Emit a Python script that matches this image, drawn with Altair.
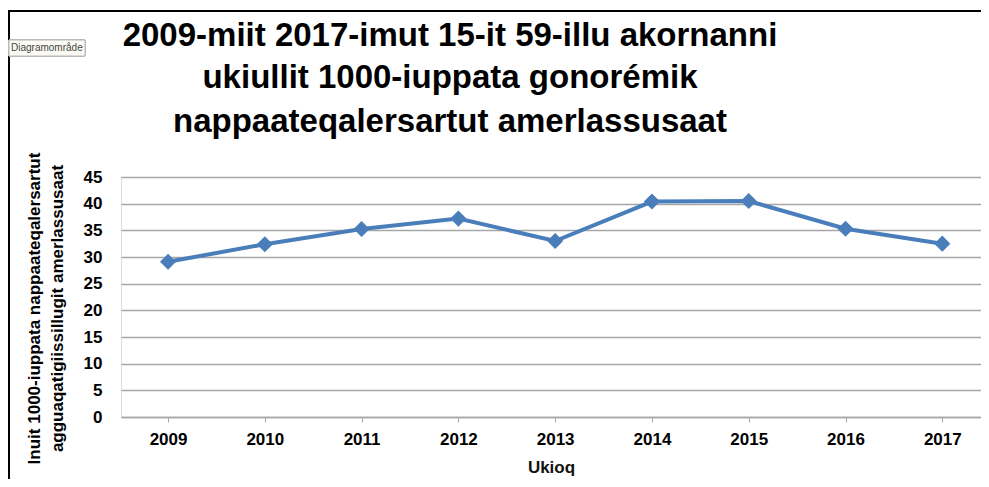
import altair as alt
import pandas as pd

years = [2009, 2010, 2011, 2012, 2013, 2014, 2015, 2016, 2017]
values = [29.1, 32.4, 35.25, 37.2, 33.0, 40.4, 40.5, 35.3, 32.5]

title_lines = [
    "2009-miit 2017-imut 15-it 59-illu akornanni",
    "ukiullit 1000-iuppata gonorémik",
    "nappaateqalersartut amerlassusaat",
]
y_title = ["Inuit 1000-iuppata nappaateqalersartut", "agguaqatigiissillugit amerlassusaat"]
x_title = "Ukioq"
y_ticks = [0, 5, 10, 15, 20, 25, 30, 35, 40, 45]

df = pd.DataFrame({"year": years, "value": values})

TFONT = "Liberation Sans Narrow, Liberation Sans, sans-serif"
FONT = "Liberation Sans, Arial, sans-serif"
BLUE = "#4a7ebb"
GRID = "#a6a6a6"

x_enc = alt.X(
    "year:Q",
    scale=alt.Scale(domain=[2008.514, 2017.4], nice=False, zero=False),
    axis=alt.Axis(
        values=years, format="d", title=x_title, grid=False, labelOverlap=False,
        domainColor=GRID, domainWidth=1.5, tickColor=GRID, tickSize=5, tickWidth=1,
        labelFont=FONT, labelFontSize=17, labelFontWeight="bold", labelColor="#000",
        labelPadding=9, titleFont=FONT, titleFontSize=17, titleFontWeight="bold",
        titleColor="#111", titlePadding=12,
    ),
)
y_enc = alt.Y(
    "value:Q",
    scale=alt.Scale(domain=[0, 45], nice=False),
    axis=alt.Axis(
        values=y_ticks, title=y_title, domain=False, ticks=False, tickSize=0,
        labelOverlap=False, gridColor=GRID, gridWidth=1.5,
        labelFont=FONT, labelFontSize=17, labelFontWeight="bold", labelColor="#000",
        labelPadding=19, titleFont=TFONT, titleFontSize=17, titleFontWeight="bold",
        titleColor="#000", titleLineHeight=23, titleX=-87, titleY=131,
        titleBaseline="middle", titleAlign="center", titleAngle=270,
    ),
)

base = alt.Chart(df).encode(x=x_enc, y=y_enc)
line = base.mark_line(color=BLUE, strokeWidth=4)
pts = base.mark_point(shape="diamond", filled=True, color=BLUE, size=260, opacity=1)

# chart border (decoration)
border_left = alt.Chart(df).mark_rule(color="#000", strokeWidth=2).encode(
    x=alt.value(-112.5), y=alt.value(-167), y2=alt.value(310)
)
border_top = alt.Chart(df).mark_rule(color="#000", strokeWidth=2).encode(
    x=alt.value(-113.5), x2=alt.value(870), y=alt.value(-166)
)
# tooltip-like label box
tip_box = alt.Chart(df).mark_rect(fill="#fbfbf3", stroke="#b8b8b8", strokeWidth=1).encode(
    x=alt.value(-112), x2=alt.value(-36), y=alt.value(-137), y2=alt.value(-121)
)
tip_text = alt.Chart(pd.DataFrame({"t": ["Diagramområde"]})).mark_text(
    font="Liberation Sans", fontSize=10, color="#444", align="left", baseline="middle"
).encode(x=alt.value(-110), y=alt.value(-129), text="t:N")

title_y = [-131, -89, -45]
title_layers = [
    alt.Chart(pd.DataFrame({"t": [txt]})).mark_text(
        font=TFONT, fontSize=33, fontWeight="bold", color="#000",
        align="center", baseline="alphabetic",
    ).encode(x=alt.value(329), y=alt.value(ty), text="t:N")
    for txt, ty in zip(title_lines, title_y)
]

chart = (
    alt.layer(border_left, border_top, tip_box, tip_text, *title_layers, line, pts)
    .properties(
        width=860,
        height=240,
        padding={"left": 113, "top": 169, "right": 0, "bottom": 62},
        autosize=alt.AutoSizeParams(type="none"),
    )
    .configure_view(stroke=None)
    .configure(background="white")
)

chart.save("out.html", embed_options={"renderer": "svg", "actions": False})
